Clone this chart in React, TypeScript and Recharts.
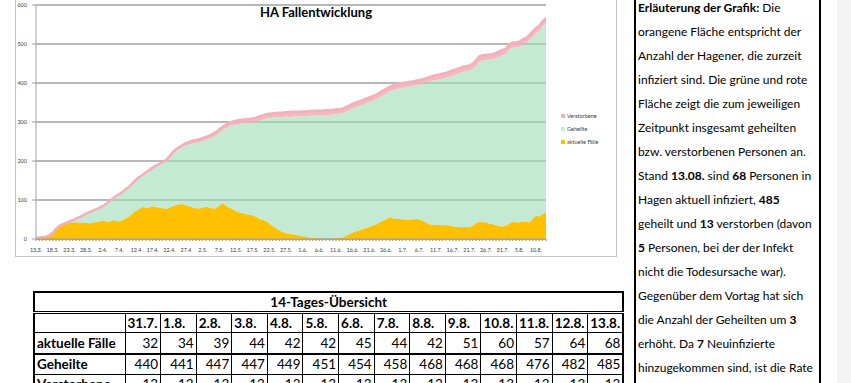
import React from 'react';
import { AreaChart, Area, XAxis, YAxis, CartesianGrid } from 'recharts';

// 13.3. .. 13.8. (one category per day)
const monthRanges: [number, number, number][] = [
  [3, 13, 31],
  [4, 1, 30],
  [5, 1, 31],
  [6, 1, 30],
  [7, 1, 31],
  [8, 1, 13],
];
const days: string[] = [];
monthRanges.forEach(([m, from, to]) => {
  for (let d = from; d <= to; d++) days.push(`${d}.${m}.`);
});

// labels under every 5th day, as printed in the chart
const xTickLabels = [
  '13.3.', '18.3.', '23.3.', '28.3.', '2.4.', '7.4.', '12.4', '17.4.', '22.4.', '27.4',
  '2.5.', '7.5.', '12.5.', '17.5.', '22.5.', '27.5.', '1.6.', '6.6.', '11.6.', '16.6.',
  '21.6.', '26.6.', '1.7.', '6.7.', '11.7.', '16.7.', '21.7.', '26.7.', '31.7.', '5.8.', '10.8.',
];

const yTicks = [0, 100, 200, 300, 400, 500, 600];

const aktuelle = [
  3, 4, 5, 6, 9, 16, 25, 32, 36, 39,
  41, 42, 43, 42, 41, 42, 40, 42, 43, 45,
  47, 45, 44, 48, 46, 45, 49, 53, 58, 66,
  72, 77, 82, 80, 81, 84, 82, 80, 79, 77,
  80, 84, 87, 89, 90, 86, 84, 81, 79, 78,
  80, 83, 81, 78, 79, 85, 91, 86, 80, 76,
  71, 68, 66, 64, 62, 60, 57, 52, 49, 46,
  40, 33, 28, 22, 18, 15, 13, 12, 10, 9,
  7, 6, 4, 3, 2, 1, 1, 0, 0, 1,
  2, 3, 4, 8, 12, 16, 19, 22, 25, 28,
  31, 34, 37, 42, 46, 50, 56, 53, 51, 52,
  50, 50, 49, 50, 51, 50, 47, 42, 38, 36,
  37, 36, 35, 36, 34, 33, 31, 31, 30, 31,
  30, 34, 41, 44, 43, 42, 40, 38, 35, 33,
  32, 34, 39, 44, 42, 42, 45, 44, 42, 51, 60, 57, 64, 68,
];

const geheilte = [
  0, 0, 0, 0, 0, 0, 1, 1, 2, 2,
  4, 6, 9, 14, 19, 23, 29, 30, 33, 35,
  36, 44, 52, 55, 63, 68, 70, 73, 75, 76,
  77, 79, 80, 88, 92, 95, 102, 109, 114, 120,
  127, 133, 137, 141, 145, 154, 158, 164, 168, 171,
  171, 171, 176, 183, 187, 187, 188, 198, 209, 216,
  222, 227, 230, 233, 236, 239, 244, 251, 257, 262,
  270, 278, 284, 291, 295, 299, 300, 302, 304, 305,
  308, 309, 312, 313, 315, 316, 316, 318, 318, 318,
  318, 318, 318, 318, 318, 319, 319, 319, 319, 320,
  320, 320, 321, 321, 322, 322, 322, 328, 333, 334,
  338, 339, 342, 342, 343, 346, 351, 358, 365, 370,
  371, 373, 376, 377, 382, 386, 391, 394, 398, 399,
  402, 402, 404, 411, 415, 417, 420, 423, 429, 435,
  440, 441, 447, 447, 449, 451, 454, 458, 468, 468, 468, 476, 482, 485,
];

const verstorbene = [
  0, 0, 0, 0, 0, 0, 0, 0, 0, 0,
  0, 0, 0, 0, 0, 0, 0, 0, 0, 0,
  1, 1, 1, 1, 1, 2, 2, 2, 2, 2,
  3, 3, 3, 3, 4, 4, 4, 4, 5, 5,
  5, 5, 6, 6, 6, 6, 7, 7, 7, 7,
  8, 8, 8, 8, 8, 9, 9, 9, 9, 9,
  10, 10, 10, 10, 10, 10, 10, 11, 11, 11,
  11, 11, 11, 11, 11, 11, 12, 12, 12, 12,
  12, 12, 12, 12, 12, 12, 12, 12, 12, 12,
  12, 12, 12, 12, 12, 12, 12, 12, 12, 12,
  12, 12, 12, 12, 12, 12, 12, 12, 12, 12,
  12, 12, 12, 12, 12, 12, 12, 12, 12, 12,
  12, 13, 13, 13, 13, 13, 13, 13, 13, 13,
  13, 13, 13, 13, 13, 13, 13, 13, 13, 13,
  13, 13, 13, 13, 13, 13, 13, 13, 13, 13, 13, 13, 13, 13,
];

// 14-Tages-Übersicht
const tableDates = ['31.7.', '1.8.', '2.8.', '3.8.', '4.8.', '5.8.', '6.8.', '7.8.', '8.8.', '9.8.', '10.8.', '11.8.', '12.8.', '13.8.'];
const tableAktuelle = [32, 34, 39, 44, 42, 42, 45, 44, 42, 51, 60, 57, 64, 68];
const tableGeheilte = [440, 441, 447, 447, 449, 451, 454, 458, 468, 468, 468, 476, 482, 485];
const tableVerstorbene = [13, 13, 13, 13, 13, 13, 13, 13, 13, 13, 13, 13, 13, 13];

const chartData = days.map((day, i) => ({
  day,
  aktuelle: aktuelle[i],
  geheilte: geheilte[i],
  verstorbene: verstorbene[i],
}));

const FONT = "Lato, 'Open Sans', sans-serif";
const ORANGE = '#FFC000';
const GREEN = '#9fdcb8';
const PINK = '#f2b0bb';

const DayTick = (props: any) => {
  const { x, y, payload } = props;
  const i = payload.index;
  if (i % 5 !== 0) return <g />;
  return (
    <text x={x} y={y} dy={9} textAnchor="middle" fontSize={5.5} fill="#404040" fontFamily={FONT}>
      {xTickLabels[i / 5]}
    </text>
  );
};

const legendItems = [
  { name: 'Verstorbene', color: PINK },
  { name: 'Geheilte', color: '#c8ecd6' },
  { name: 'aktuelle Fälle', color: ORANGE },
];

const cell: React.CSSProperties = {
  borderLeft: '1px solid #000',
  borderBottom: '1px solid #000',
  padding: '0 2px',
  overflow: 'hidden',
  whiteSpace: 'nowrap',
};

const App: React.FC = () => {
  return (
    <div
      style={{
        position: 'absolute',
        left: 0,
        top: 0,
        width: 851,
        height: 383,
        overflow: 'hidden',
        background: '#fff',
        fontFamily: FONT,
        color: '#000',
      }}
    >
      <div style={{ position: 'absolute', left: 837, top: 0, width: 14, height: 383, background: '#f3f3f3' }} />

      {/* chart picture */}
      <div style={{ position: 'absolute', left: 15, top: -5, width: 602, height: 262, border: '1px solid #c4c4c4', boxSizing: 'border-box' }} />
      <div style={{ position: 'absolute', left: 15, top: -5 }}>
        <AreaChart width={602} height={262} data={chartData} margin={{ top: 10, right: 71, bottom: 4, left: 3 }}>
          <CartesianGrid vertical={false} stroke="#a0a0a0" strokeWidth={1.6} />
          <XAxis
            dataKey="day"
            interval={0}
            tick={<DayTick />}
            tickSize={2}
            tickLine={{ stroke: '#9a9560' }}
            axisLine={{ stroke: '#a0a0a0' }}
            height={14}
          />
          <YAxis
            domain={[0, 600]}
            ticks={yTicks}
            width={18}
            tickSize={4}
            tickMargin={5}
            tick={{ fontSize: 5.5, fill: '#404040', fontFamily: FONT }}
            tickLine={{ stroke: '#a0a0a0' }}
            axisLine={{ stroke: '#a0a0a0' }}
          />
          <Area
            type="linear"
            dataKey="aktuelle"
            name="aktuelle Fälle"
            stackId="1"
            stroke="none"
            fill={ORANGE}
            fillOpacity={1}
            dot={false}
            activeDot={false}
            isAnimationActive={false}
          />
          <Area
            type="linear"
            dataKey="geheilte"
            name="Geheilte"
            stackId="1"
            stroke="none"
            fill={GREEN}
            fillOpacity={0.6}
            dot={false}
            activeDot={false}
            isAnimationActive={false}
          />
          <Area
            type="linear"
            dataKey="verstorbene"
            name="Verstorbene"
            stackId="1"
            stroke={PINK}
            strokeWidth={2.5}
            fill={PINK}
            fillOpacity={0.9}
            dot={false}
            activeDot={false}
            isAnimationActive={false}
          />
        </AreaChart>
      </div>
      <div style={{ position: 'absolute', left: 216, top: 3, width: 200, textAlign: 'center', fontSize: 13, fontWeight: 700, lineHeight: '18px' }}>
        HA Fallentwicklung
      </div>
      <div style={{ position: 'absolute', left: 561, top: 109, fontSize: 5.5, color: '#404040' }}>
        {legendItems.map((item) => (
          <div key={item.name} style={{ display: 'flex', alignItems: 'center', height: 13 }}>
            <span style={{ display: 'inline-block', width: 4, height: 4, background: item.color, marginRight: 2 }} />
            {item.name}
          </div>
        ))}
      </div>

      {/* 14-day table */}
      <table
        style={{
          position: 'absolute',
          left: 33,
          top: 291,
          width: 590,
          borderCollapse: 'collapse',
          tableLayout: 'fixed',
          fontSize: 13.5,
          lineHeight: '18px',
          border: '2px solid #000',
        }}
      >
        <colgroup>
          <col style={{ width: 91 }} />
          {tableDates.map((d) => (
            <col key={d} style={{ width: 35.6 }} />
          ))}
        </colgroup>
        <tbody>
          <tr style={{ height: 20 }}>
            <td colSpan={15} style={{ textAlign: 'center', fontWeight: 700, borderBottom: '3px double #000', padding: 0 }}>
              14-Tages-Übersicht
            </td>
          </tr>
          <tr style={{ height: 20 }}>
            <td style={cell} />
            {tableDates.map((d) => (
              <td key={d} style={{ ...cell, fontWeight: 700 }}>{d}</td>
            ))}
          </tr>
          <tr style={{ height: 21 }}>
            <td style={{ ...cell, fontWeight: 700, borderBottom: '2px solid #000' }}>aktuelle Fälle</td>
            {tableAktuelle.map((v, i) => (
              <td key={i} style={{ ...cell, textAlign: 'right', borderBottom: '2px solid #000' }}>{v}</td>
            ))}
          </tr>
          <tr style={{ height: 21 }}>
            <td style={{ ...cell, fontWeight: 700 }}>Geheilte</td>
            {tableGeheilte.map((v, i) => (
              <td key={i} style={{ ...cell, textAlign: 'right' }}>{v}</td>
            ))}
          </tr>
          <tr style={{ height: 20 }}>
            <td style={{ ...cell, fontWeight: 700 }}>Verstorbene</td>
            {tableVerstorbene.map((v, i) => (
              <td key={i} style={{ ...cell, textAlign: 'right' }}>{v}</td>
            ))}
          </tr>
        </tbody>
      </table>

      {/* explanation */}
      <div
        style={{
          position: 'absolute',
          left: 634,
          top: -10,
          width: 187,
          height: 410,
          borderLeft: '2px solid #000',
          borderRight: '2px solid #000',
          boxSizing: 'border-box',
          padding: '6px 0 0 2px',
          fontSize: 12,
          lineHeight: '24px',
          whiteSpace: 'nowrap',
        }}
      >
        <div><b>Erläuterung der Grafik:</b> Die</div>
        <div>orangene Fläche entspricht der</div>
        <div>Anzahl der Hagener, die zurzeit</div>
        <div>infiziert sind. Die grüne und rote</div>
        <div>Fläche zeigt die zum jeweiligen</div>
        <div>Zeitpunkt insgesamt geheilten</div>
        <div>bzw. verstorbenen Personen an.</div>
        <div>Stand <b>13.08.</b> sind <b>68</b> Personen in</div>
        <div>Hagen aktuell infiziert, <b>485</b></div>
        <div>geheilt und <b>13</b> verstorben (davon</div>
        <div><b>5</b> Personen, bei der der Infekt</div>
        <div>nicht die Todesursache war).</div>
        <div>Gegenüber dem Vortag hat sich</div>
        <div>die Anzahl der Geheilten um <b>3</b></div>
        <div>erhöht. Da <b>7</b> Neuinfizierte</div>
        <div>hinzugekommen sind, ist die Rate</div>
      </div>
    </div>
  );
};

export default App;
